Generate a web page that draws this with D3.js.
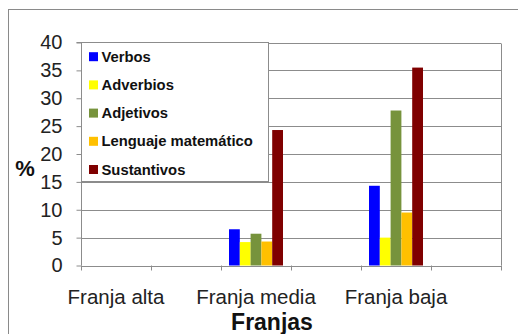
<!DOCTYPE html>
<html>
<head>
<meta charset="utf-8">
<script src="https://cdn.jsdelivr.net/npm/d3@7"></script>
<style>
  html, body { margin: 0; padding: 0; background: #fff; }
  svg { display: block; font-family: "Liberation Sans", Arial, sans-serif; }
</style>
</head>
<body>
<svg id="chart" width="518" height="334"></svg>
<script>
// Data
const categories = ["Franja alta", "", "Franja media", "", "Franja baja", ""];
const seriesNames = ["Verbos", "Adverbios", "Adjetivos", "Lenguaje matemático", "Sustantivos"];
const seriesColors = ["#0000FF", "#FFFF00", "#77933C", "#FFC000", "#7F0000"];
const verbos      = [0, 0, 6.5, 0, 14.3, 0];
const adverbios   = [0, 0, 4.2, 0, 5.0, 0];
const adjetivos   = [0, 0, 5.7, 0, 27.8, 0];
const lenguaje    = [0, 0, 4.3, 0, 9.5, 0];
const sustantivos = [0, 0, 24.3, 0, 35.5, 0];
const yTicks = [0, 5, 10, 15, 20, 25, 30, 35, 40];
const yLabel = "%";
const xLabel = "Franjas";

const seriesValues = [verbos, adverbios, adjetivos, lenguaje, sustantivos];

(function () {
const svg = d3.select("#chart");
const pLeft = 81, pRight = 501, pTop = 42.5, pBottom = 265.5;
const gray = "#8c8c8c";

// outer frame
svg.append("rect").attr("x", 8.5).attr("y", 9.5).attr("width", 530).attr("height", 340)
  .attr("fill", "none").attr("stroke", "#8a8a8a").attr("stroke-width", 1);

const x = d3.scaleBand().domain(d3.range(categories.length)).range([pLeft, pRight]).padding(0);
const xs = d3.scaleBand().domain(d3.range(seriesNames.length)).range([8, x.bandwidth() - 8]).padding(0);
const y = d3.scaleLinear().domain([0, 40]).range([pBottom, pTop]);

// gridlines
svg.append("g").selectAll("line").data(yTicks.filter(d => d > 0)).join("line")
  .attr("x1", pLeft).attr("x2", pRight)
  .attr("y1", d => Math.round(y(d)) + 0.5).attr("y2", d => Math.round(y(d)) + 0.5)
  .attr("stroke", gray).attr("stroke-width", 1);
// right border
svg.append("line").attr("x1", pRight + 0.5).attr("x2", pRight + 0.5).attr("y1", Math.round(y(40)) + 0.5).attr("y2", pBottom)
  .attr("stroke", gray);

// bars
seriesValues.forEach((vals, si) => {
  svg.append("g").selectAll("rect").data(vals.map((v, i) => ({v, i})).filter(d => d.v > 0)).join("rect")
    .attr("x", d => x(d.i) + xs(si))
    .attr("width", xs.bandwidth())
    .attr("y", d => y(d.v))
    .attr("height", d => y(0) - y(d.v))
    .attr("fill", seriesColors[si]);
});

// Y axis
const yAxis = d3.axisLeft(y).tickValues(yTicks).tickSize(5).tickPadding(14).tickFormat(d3.format("d"));
const gy = svg.append("g").attr("transform", `translate(${pLeft + 0.5},0)`).call(yAxis);
gy.select(".domain").attr("stroke", gray).attr("d", `M-5,${y(40)}H0V${y(0)}`);
gy.selectAll(".tick line").attr("stroke", gray);
gy.selectAll(".tick text").attr("font-size", 20).attr("fill", "#222").attr("font-family", "Liberation Sans, Arial, sans-serif");

// X axis
const xAxis = d3.axisBottom(x).tickSize(0).tickFormat(i => categories[i]).tickPadding(23);
const gx = svg.append("g").attr("transform", `translate(0,${Math.round(y(0)) + 0.5})`).call(xAxis);
gx.select(".domain").attr("stroke", gray).attr("d", `M${pLeft},0H${pRight}`);
gx.selectAll(".tick text").attr("font-size", 20.5).attr("fill", "#222").attr("font-family", "Liberation Sans, Arial, sans-serif");
// x ticks at band boundaries
svg.append("g").selectAll("line").data(d3.range(categories.length + 1)).join("line")
  .attr("x1", i => Math.round(pLeft + i * x.step()) + 0.5)
  .attr("x2", i => Math.round(pLeft + i * x.step()) + 0.5)
  .attr("y1", pBottom).attr("y2", pBottom + 5)
  .attr("stroke", gray);

// axis titles
svg.append("text").attr("x", 25).attr("y", 176).attr("text-anchor", "middle")
  .attr("font-size", 22).attr("font-weight", "bold").attr("fill", "#111").text(yLabel);
svg.append("text").attr("x", 272).attr("y", 330).attr("text-anchor", "middle")
  .attr("font-size", 23).attr("font-weight", "bold").attr("fill", "#111").text(xLabel);

// legend
const lg = svg.append("g");
lg.append("rect").attr("x", 81.5).attr("y", 42.5).attr("width", 187).attr("height", 139)
  .attr("fill", "#fff").attr("stroke", gray);
seriesNames.forEach((name, i) => {
  const cy = 56.7 + i * 28.2;
  lg.append("rect").attr("x", 89).attr("y", cy - 4.5).attr("width", 9).attr("height", 9).attr("fill", seriesColors[i]);
  lg.append("text").attr("x", 101.5).attr("y", cy + 5).attr("font-size", 14.8).attr("font-weight", "bold")
    .attr("fill", "#111").text(name);
});
})();
</script>
</body>
</html>
